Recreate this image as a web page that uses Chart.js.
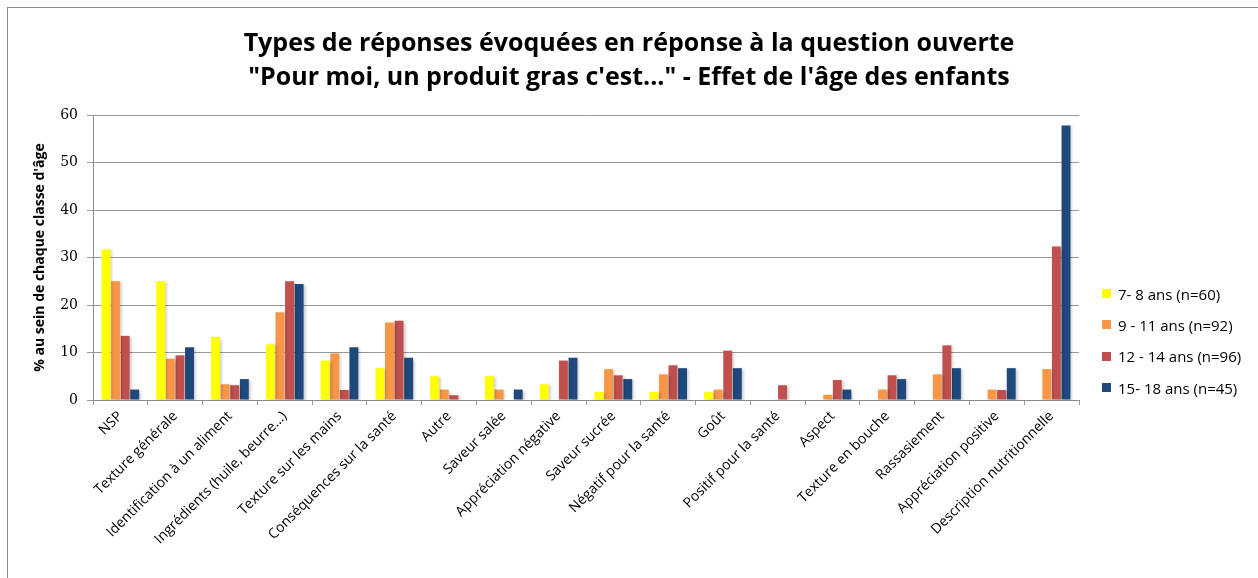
<!DOCTYPE html>
<html>
<head>
<meta charset="utf-8">
<script src="https://cdn.jsdelivr.net/npm/chart.js@4"></script>
<style>
  html, body { margin: 0; padding: 0; background: #fff; }
  #wrap { position: relative; width: 1258px; height: 578px; overflow: hidden; }
  #frame { position: absolute; left: 7px; top: 7px; width: 1260px; height: 600px; border: 1px solid #8a8a8a; box-sizing: border-box; }
  canvas { position: absolute; left: 0; top: 0; }
  #title { position: absolute; left: 329px; width: 600px; top: 24px; text-align: center; font-family: "Open Sans", sans-serif; font-weight: bold; font-size: 25px; line-height: 34px; color: #000; white-space: nowrap; }
  #title div { display: flex; justify-content: center; }
  #legend { position: absolute; left: 1102px; top: 278px; font-family: "Open Sans", sans-serif; font-size: 15px; color: #000; }
  .li { height: 31.3px; display: flex; align-items: center; white-space: nowrap; }
  .sw { width: 9px; height: 9px; margin-right: 7px; }
</style>
</head>
<body>
<div id="wrap">
  <div id="frame"></div>
  <canvas id="c" width="1258" height="578"></canvas>
  <div id="title"></div>
  <div id="legend"></div>
</div>
<script>
const categories = ["NSP", "Texture générale", "Identification à un aliment", "Ingrédients (huile, beurre...)", "Texture sur les mains", "Conséquences sur la santé", "Autre", "Saveur salée", "Appréciation négative", "Saveur sucrée", "Négatif pour la santé", "Goût", "Positif pour la santé", "Aspect", "Texture en bouche", "Rassasiement", "Appréciation positive", "Description nutritionnelle"];
const seriesNames = ["7- 8 ans (n=60)", "9 - 11 ans (n=92)", "12 - 14 ans (n=96)", "15- 18 ans (n=45)"];
const age7_8   = [31.7, 25, 13.3, 11.7, 8.3, 6.7, 5, 5, 3.3, 1.7, 1.7, 1.7, 0, 0, 0, 0, 0, 0];
const age9_11  = [25, 8.7, 3.3, 18.5, 9.8, 16.3, 2.2, 2.2, 0, 6.5, 5.4, 2.2, 0, 1.1, 2.2, 5.4, 2.2, 6.5];
const age12_14 = [13.5, 9.4, 3.1, 25, 2.1, 16.7, 1.0, 0, 8.3, 5.2, 7.3, 10.4, 3.1, 4.2, 5.2, 11.5, 2.1, 32.3];
const age15_18 = [2.2, 11.1, 4.4, 24.4, 11.1, 8.9, 0, 2.2, 8.9, 4.4, 6.7, 6.7, 0, 2.2, 4.4, 6.7, 6.7, 57.8];
const yTicks = [0, 10, 20, 30, 40, 50, 60];
const titleLines = ["Types de réponses évoquées en réponse à la question ouverte", "\"Pour moi, un produit gras c'est...\" - Effet de l'âge des enfants"];
const yTitle = "% au sein de chaque classe d'âge";

const colors = ["#FFFF00", "#F79646", "#C0504D", "#1F497D"];
const allData = [age7_8, age9_11, age12_14, age15_18];

const titleEl = document.getElementById('title');
titleLines.forEach(l => { const d = document.createElement('div'); d.textContent = l; titleEl.appendChild(d); });

const legend = document.getElementById('legend');
seriesNames.forEach((n, i) => {
  const d = document.createElement('div'); d.className = 'li';
  const s = document.createElement('div'); s.className = 'sw'; s.style.background = colors[i];
  const t = document.createElement('span'); t.textContent = n;
  d.appendChild(s); d.appendChild(t); legend.appendChild(d);
});

const shadowPlugin = {
  id: 'shadow',
  beforeDatasetsDraw(chart) {
    const ctx = chart.ctx; ctx.save();
    ctx.shadowColor = 'rgba(0,0,0,0.22)'; ctx.shadowOffsetX = 2; ctx.shadowOffsetY = 1; ctx.shadowBlur = 3;
  },
  afterDatasetsDraw(chart) { chart.ctx.restore(); }
};

new Chart(document.getElementById('c'), {
  type: 'bar',
  data: {
    labels: categories,
    datasets: allData.map((d, i) => ({
      label: seriesNames[i], data: d, backgroundColor: colors[i],
      borderWidth: 0, categoryPercentage: 0.7, barPercentage: 0.93
    }))
  },
  plugins: [shadowPlugin],
  options: {
    responsive: false, animation: false,
    layout: { padding: { left: 0, right: 179, top: 115, bottom: 0 } },
    plugins: {
      legend: { display: false },
      tooltip: { enabled: false },
      title: { display: false }
    },
    scales: {
      x: {
        grid: { display: true, drawOnChartArea: false, drawTicks: true, tickLength: 5, offset: true, color: '#9a9a9a' },
        border: { color: '#8c8c8c' },
        ticks: { minRotation: 45, maxRotation: 45, autoSkip: false, color: '#000', padding: 3,
          font: { family: 'Open Sans', size: 14 } },
        afterFit(s) { s.height = 178; }
      },
      y: {
        min: 0, max: 60,
        afterBuildTicks(s) { s.ticks = yTicks.map(v => ({ value: v })); },
        grid: { color: '#999999', tickLength: 6 },
        border: { color: '#8c8c8c' },
        ticks: { color: '#000', padding: 9, font: { family: 'DejaVu Serif', size: 14 } },
        title: { display: true, text: yTitle, color: '#000',
          font: { family: 'Open Sans', size: 14, weight: 'bold' }, padding: { top: 32, bottom: 0 } },
        afterFit(s) { s.width = 93; }
      }
    }
  }
});
</script>
</body>
</html>
